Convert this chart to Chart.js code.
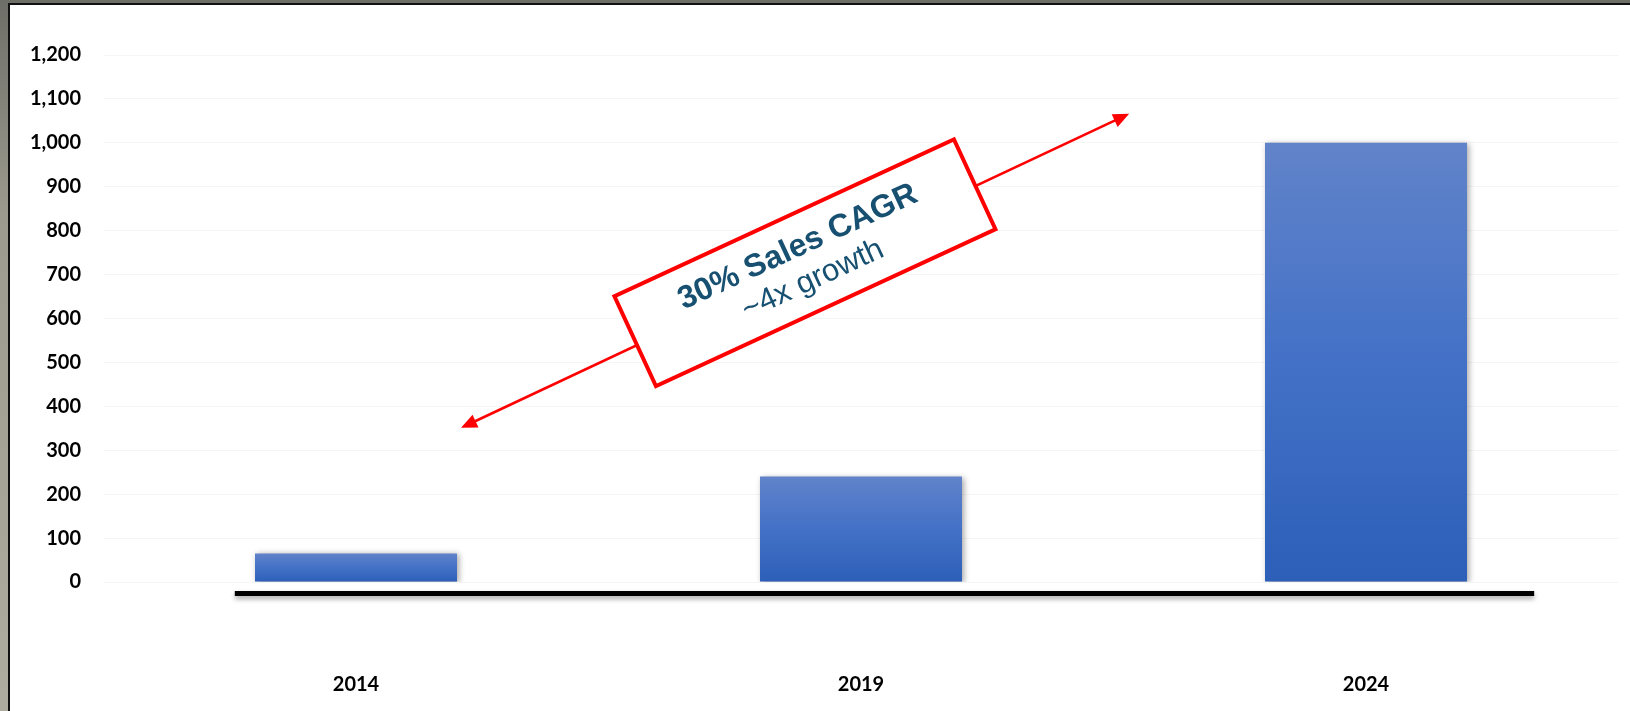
<!DOCTYPE html>
<html>
<head>
<meta charset="utf-8">
<script src="https://cdn.jsdelivr.net/npm/chart.js@4/dist/chart.umd.min.js"></script>
<style>
  html, body { margin: 0; padding: 0; background: #a7a597; }
  #wrap { position: relative; width: 1630px; height: 711px; }
  canvas { display: block; }
</style>
</head>
<body>
<div id="wrap"><canvas id="c" width="1630" height="711"></canvas></div>
<script>
// Sales by year
const years = ['2014', '2019', '2024'];
const sales = [65, 240, 1000];
const yTicks = { min: 0, max: 1200, step: 100 };

// Callout text
const calloutTitle = '30% Sales CAGR';
const calloutSub = '~4x growth';

const TEXT_BLUE = '#175071';
const RED = '#ff0000';

// Slide frame: grey backdrop strip with a black edge round the white panel
const framePlugin = {
  id: 'frame',
  beforeDraw(chart) {
    const c = chart.ctx;
    const W = chart.width, H = chart.height;
    c.save();
    const gl = c.createLinearGradient(0, 0, 0, H);
    gl.addColorStop(0, '#6e6e68');
    gl.addColorStop(0.3, '#9c9a8e');
    gl.addColorStop(1, '#adac9e');
    c.fillStyle = gl;
    c.fillRect(0, 0, W, H);
    c.fillStyle = '#ffffff';
    c.fillRect(10, 5, W - 10, H - 5);
    c.fillStyle = '#111111';
    c.fillRect(8, 3, W - 8, 2);
    c.fillRect(8, 3, 2, H - 3);
    c.restore();
  }
};

// Soft drop shadow under the bars
const shadowPlugin = {
  id: 'barShadow',
  beforeDatasetsDraw(chart) {
    const c = chart.ctx;
    c.save();
    c.shadowColor = 'rgba(0,0,0,0.35)';
    c.shadowBlur = 6;
    c.shadowOffsetX = 2;
    c.shadowOffsetY = 1;
  },
  afterDatasetsDraw(chart) {
    chart.ctx.restore();
  }
};

function arrowHead(c, x, y, ang, len, half) {
  c.beginPath();
  c.moveTo(x, y);
  c.lineTo(x - len * Math.cos(ang) + half * Math.sin(ang), y - len * Math.sin(ang) - half * Math.cos(ang));
  c.lineTo(x - len * Math.cos(ang) - half * Math.sin(ang), y - len * Math.sin(ang) + half * Math.cos(ang));
  c.closePath();
  c.fill();
}

// Thick base rule, growth arrow and the rotated CAGR callout
const overlayPlugin = {
  id: 'overlay',
  afterDatasetsDraw(chart) {
    const c = chart.ctx;
    const xs = chart.scales.x, ys = chart.scales.y;
    const step = xs.getPixelForValue(1) - xs.getPixelForValue(0);
    const base = ys.getPixelForValue(0);

    // base rule
    c.save();
    c.shadowColor = 'rgba(0,0,0,0.35)';
    c.shadowBlur = 5;
    c.shadowOffsetY = 3;
    c.fillStyle = '#000000';
    const x0 = xs.getPixelForValue(0) - 0.24 * step;
    const x1 = xs.getPixelForValue(2) + 0.333 * step;
    c.fillRect(x0, base + 9, x1 - x0, 5);
    c.restore();

    // growth arrow (both ends)
    const ax0 = xs.getPixelForValue(0.208), ay0 = ys.getPixelForValue(351);
    const ax1 = xs.getPixelForValue(1.531), ay1 = ys.getPixelForValue(1066);
    const ang = Math.atan2(ay1 - ay0, ax1 - ax0);
    c.save();
    c.strokeStyle = RED;
    c.fillStyle = RED;
    c.lineWidth = 2.5;
    c.beginPath();
    c.moveTo(ax0 + 12 * Math.cos(ang), ay0 + 12 * Math.sin(ang));
    c.lineTo(ax1 - 12 * Math.cos(ang), ay1 - 12 * Math.sin(ang));
    c.stroke();
    arrowHead(c, ax1, ay1, ang, 16, 7);
    arrowHead(c, ax0, ay0, ang + Math.PI, 16, 7);
    c.restore();

    // callout box
    const cx = xs.getPixelForValue(0.889), cy = ys.getPixelForValue(727);
    const bw = 374, bh = 99;
    c.save();
    c.translate(cx, cy);
    c.rotate(-24.8 * Math.PI / 180);
    c.fillStyle = '#ffffff';
    c.fillRect(-bw / 2, -bh / 2, bw, bh);
    c.strokeStyle = RED;
    c.lineWidth = 4;
    c.strokeRect(-bw / 2, -bh / 2, bw, bh);
    c.fillStyle = TEXT_BLUE;
    c.textAlign = 'center';
    c.textBaseline = 'middle';
    c.font = 'bold 32px "Liberation Sans", Arial, sans-serif';
    c.fillText(calloutTitle, 0, -17);
    c.font = '31px "Liberation Sans", Arial, sans-serif';
    c.fillText(calloutSub, 0, 19);
    c.restore();
  }
};

// Vertical gradient fill, spanning each bar from its top down to zero
function barFill(ctx) {
  const chart = ctx.chart;
  const ys = chart.scales && chart.scales.y;
  if (!ys || ctx.type !== 'data') return '#4472c4';
  const top = ys.getPixelForValue(ctx.raw);
  const bot = ys.getPixelForValue(0);
  if (!isFinite(top) || !isFinite(bot) || top === bot) return '#4472c4';
  const g = chart.ctx.createLinearGradient(0, top, 0, bot);
  g.addColorStop(0, '#6183c9');
  g.addColorStop(0.5, '#4371c7');
  g.addColorStop(1, '#2d5fb8');
  return g;
}

const tickFont = { family: 'Lato, "Open Sans", sans-serif', size: 20, weight: 'bold' };

new Chart(document.getElementById('c'), {
  type: 'bar',
  data: {
    labels: years,
    datasets: [{
      data: sales,
      backgroundColor: barFill,
      borderWidth: 0,
      barPercentage: 0.4,
      categoryPercentage: 1.0
    }]
  },
  options: {
    responsive: false,
    animation: false,
    events: [],
    layout: { padding: { left: 0, right: 11.5, top: 55, bottom: 0 } },
    plugins: { legend: { display: false }, tooltip: { enabled: false } },
    scales: {
      x: {
        afterFit(scale) { scale.height = 129; },
        grid: { display: false, drawTicks: false },
        border: { display: false },
        ticks: {
          padding: 91,
          color: '#000000',
          font: tickFont
        }
      },
      y: {
        min: yTicks.min,
        max: yTicks.max,
        afterFit(scale) { scale.width = 103.5; },
        grid: { color: '#f5f5f5', lineWidth: 1, drawTicks: false },
        border: { display: false },
        ticks: {
          stepSize: yTicks.step,
          padding: 22.5,
          color: '#000000',
          font: tickFont,
          callback: (v) => v.toLocaleString('en-US')
        }
      }
    }
  },
  plugins: [framePlugin, shadowPlugin, overlayPlugin]
});
</script>
</body>
</html>
